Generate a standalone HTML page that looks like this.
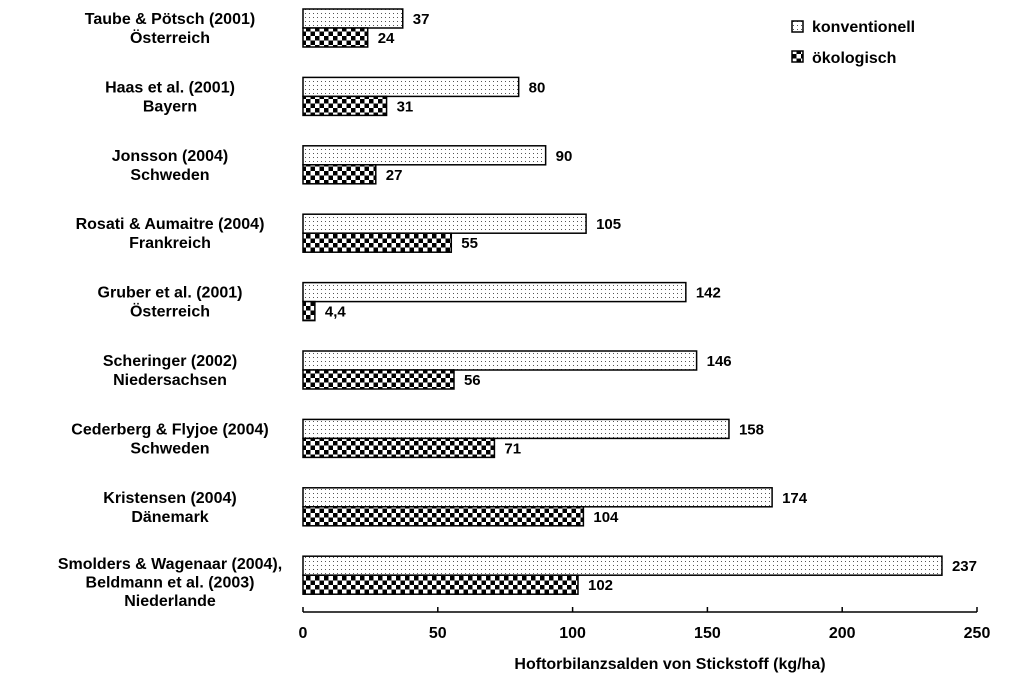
<!DOCTYPE html>
<html><head><meta charset="utf-8">
<style>
body{margin:0;background:#fff;}
svg{display:block;font-family:"Liberation Sans",Arial,sans-serif;font-weight:bold;}
</style></head>
<body>
<svg id="chart" width="1024" height="683" viewBox="0 0 1024 683">
<defs>
<pattern id="dots" width="4" height="4" patternUnits="userSpaceOnUse">
<rect width="4" height="4" fill="#fff"/><rect x="1" y="1" width="1" height="1" fill="#555"/>
</pattern>
<pattern id="check" width="9" height="9" patternUnits="userSpaceOnUse">
<rect width="9" height="9" fill="#fff"/><rect width="4.5" height="4.5" fill="#000"/><rect x="4.5" y="4.5" width="4.5" height="4.5" fill="#000"/>
</pattern>
</defs>
<g id="bars"></g>
<g id="axis"></g>
<text x="670" y="669" font-size="16" text-anchor="middle">Hoftorbilanzsalden von Stickstoff (kg/ha)</text>
<g>
<rect x="792" y="21" width="11" height="11" fill="url(#dots)" stroke="#000" stroke-width="1.5"/>
<text x="812" y="32" font-size="16">konventionell</text>
<rect x="792" y="51" width="11" height="11" fill="url(#check)" stroke="#000" stroke-width="1.5"/>
<text x="812" y="63" font-size="16">ökologisch</text>
</g>
</svg>
<script>
const categories = [
 ["Taube & Pötsch (2001)","Österreich"],
 ["Haas et al. (2001)","Bayern"],
 ["Jonsson (2004)","Schweden"],
 ["Rosati & Aumaitre (2004)","Frankreich"],
 ["Gruber et al. (2001)","Österreich"],
 ["Scheringer (2002)","Niedersachsen"],
 ["Cederberg & Flyjoe (2004)","Schweden"],
 ["Kristensen (2004)","Dänemark"],
 ["Smolders & Wagenaar (2004),","Beldmann et al. (2003)","Niederlande"]
];
const konventionell = [37,80,90,105,142,146,158,174,237];
const oekologisch = [24,31,27,55,4.4,56,71,104,102];
const oekoLabels = ["24","31","27","55","4,4","56","71","104","102"];
const ticks = [0,50,100,150,200,250];

const NS="http://www.w3.org/2000/svg";
const x0=303, x1=977, vmax=250;
const xs=v=>x0+(x1-x0)*v/vmax;
const groupTop=i=>9+68.4*i;
const bh=19;
function mk(tag,attrs,parent,txt){const e=document.createElementNS(NS,tag);for(const k in attrs)e.setAttribute(k,attrs[k]);if(txt!==undefined)e.textContent=txt;parent.appendChild(e);return e;}
const bars=document.getElementById('bars');
categories.forEach((c,i)=>{
 const t=groupTop(i);
 const r1=mk('rect',{x:x0,y:t,width:xs(konventionell[i])-x0,height:bh,fill:'url(#dots)',stroke:'#000','stroke-width':1.5},bars);
 
 
 const r2=mk('rect',{x:x0,y:t+bh,width:xs(oekologisch[i])-x0,height:bh,fill:'url(#check)',stroke:'#000','stroke-width':1.5},bars);
 
 
 const v1=mk('text',{x:xs(konventionell[i])+10,y:t+15,'font-size':15},bars,String(konventionell[i]));
 
 
 const v2=mk('text',{x:xs(oekologisch[i])+10,y:t+bh+15,'font-size':15},bars,oekoLabels[i]);
 
 
 const n=c.length;
 const startY = n===2 ? t+15 : t+13;
 const step = n===2 ? 19 : 18.5;
 c.forEach((line,j)=>{
  const l=mk('text',{x:170,y:startY+j*step,'font-size':16,'text-anchor':'middle'},bars,line);
  
  
 });
});
const ax=document.getElementById('axis');
const al=mk('line',{x1:x0,x2:x1,y1:612,y2:612,stroke:'#000','stroke-width':1.5},ax);


ticks.forEach(v=>{
 const tk=mk('line',{x1:xs(v),x2:xs(v),y1:607,y2:612,stroke:'#000','stroke-width':1.5},ax);
 
 
 const tl=mk('text',{x:xs(v),y:638,'font-size':16,'text-anchor':'middle'},ax,String(v));
 
 
});
</script>
</body></html>
